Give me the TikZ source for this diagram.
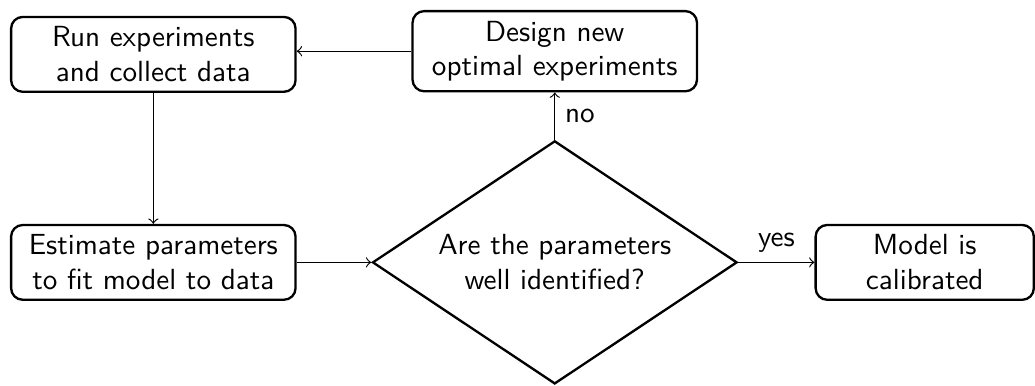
\documentclass[tikz,border=0pt]{standalone}
\usetikzlibrary{shapes.geometric,positioning}
\begin{document}
\begin{tikzpicture}[font=\sffamily,
box/.style={draw, thick, rounded corners, align=center, text width=3.2cm},
test/.style={draw, thick, diamond, aspect=1.5, align=center}]
\node[box] (est) {Estimate parameters\\to fit model to data};
\node[box, above=1.58cm of est] (run) {Run experiments\\and collect data};
\node[test, right=0.9cm of est] (check) {Are the parameters\\well identified?};
\node[box, text width=2.4cm, right=0.92cm of check] (done) {Model is\\calibrated};
\node[box, above=0.57cm of check] (design) {Design new\\optimal experiments};
\draw[->] (design.west) -- (design.west -| run.east);
\draw[->] (run) -- (est);
\draw[->] (est) -- (check);
\draw[->] (check) -- node[above] {yes} (done);
\draw[->] (check) -- node[right] {no} (design);
\pgfresetboundingbox
\path[use as bounding box] ([xshift=-0.12cm]est.west |- check.south)
  rectangle ([yshift=0.12cm]done.east |- design.north);
\end{tikzpicture}
\end{document}
